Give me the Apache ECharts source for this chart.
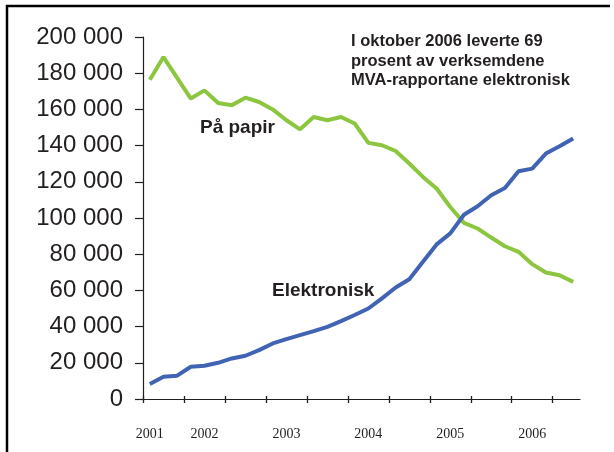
<!DOCTYPE html>
<html>
<head>
<meta charset="utf-8">
<script src="https://cdn.jsdelivr.net/npm/echarts@6/dist/echarts.min.js"></script>
<style>
  html, body { margin: 0; padding: 0; background: #fff; }
  #container { width: 614px; height: 452px; }
</style>
</head>
<body>
<div id="container"></div>
<script>
let chart = echarts.init(document.getElementById('container'));

// bimonthly MVA terms, 2001 - 2006 (32 terms)
var terms = [];
for (var i = 0; i < 32; i++) { terms.push('t' + i); }
// year label shown at these term indexes
var yearLabels = {0: '2001', 4: '2002', 10: '2003', 16: '2004', 22: '2005', 28: '2006'};
// half-year tick marks, at term boundaries
var halfYearTicks = [0, 3, 6, 9, 12, 15, 18, 21, 24, 27, 30];

var papir = [176400, 188900, 177400, 166000, 170500, 163500, 162300, 166500,
             164100, 160000, 154000, 149000, 155800, 154000, 155800, 152200,
             141500, 140200, 137000, 130100, 122700, 116300, 106100, 97300,
             94200, 89200, 84400, 81300, 74500, 69900, 68400, 64700];
var elektronisk = [8300, 12300, 12900, 17800, 18400, 20000, 22400, 23900,
                   27000, 30700, 33100, 35300, 37500, 39900, 43000, 46400,
                   50000, 55600, 61600, 66200, 75800, 85400, 91500, 101800,
                   106500, 112600, 116600, 125800, 127300, 135600, 139600, 143900];

var textColor = '#231f20';
var axisColor = '#231f20';

function tickAxis(inside, len) {
    return {
        type: 'value',
        position: 'bottom',
        min: 0,
        max: terms.length,
        axisLine: { show: false },
        splitLine: { show: false },
        axisLabel: { show: false },
        axisTick: {
            show: true,
            inside: inside,
            length: len,
            customValues: halfYearTicks,
            lineStyle: { color: axisColor, width: 1.3 }
        }
    };
}

var option = {
    animation: false,
    grid: {
        left: 143,
        right: 34,
        top: 37,
        bottom: 53
    },
    xAxis: [{
        type: 'category',
        data: terms,
        boundaryGap: true,
        axisLine: { lineStyle: { color: axisColor, width: 1.2 } },
        axisTick: { show: false },
        axisLabel: {
            interval: 0,
            formatter: function (value, idx) { return yearLabels[idx] || ''; },
            margin: 28,
            fontFamily: 'Liberation Serif',
            fontSize: 14,
            color: textColor
        }
    }, tickAxis(false, 4), tickAxis(true, 3)],
    yAxis: {
        type: 'value',
        min: 0,
        max: 200000,
        interval: 20000,
        splitLine: { show: false },
        axisLine: { show: true, lineStyle: { color: axisColor, width: 1.2 } },
        axisTick: { show: true, length: 8, lineStyle: { color: axisColor, width: 1.2 } },
        axisLabel: {
            margin: 20,
            fontFamily: 'Liberation Sans',
            fontSize: 24,
            color: textColor,
            formatter: function (v) {
                return String(v).replace(/\B(?=(\d{3})+(?!\d))/g, ' ');
            }
        }
    },
    series: [{
        name: 'På papir',
        type: 'line',
        data: papir,
        symbol: 'none',
        lineStyle: { color: '#8cc63f', width: 4 }
    }, {
        name: 'Elektronisk',
        type: 'line',
        data: elektronisk,
        symbol: 'none',
        lineStyle: { color: '#4163b4', width: 4 }
    }],
    graphic: [{
        type: 'polyline',
        shape: { points: [[610, 6], [7, 6], [7, 460]] },
        style: { stroke: '#000', lineWidth: 2.5, fill: null }
    }, {
        type: 'text',
        left: 351,
        top: 32,
        style: {
            text: 'I oktober 2006 leverte 69\nprosent av verksemdene\nMVA-rapportane elektronisk',
            font: 'bold 16.5px "Liberation Sans"',
            lineHeight: 19.5,
            fill: textColor
        }
    }, {
        type: 'text',
        left: 200,
        top: 118,
        style: {
            text: 'På papir',
            font: 'bold 19px "Liberation Sans"',
            fill: textColor
        }
    }, {
        type: 'text',
        left: 272,
        top: 281,
        style: {
            text: 'Elektronisk',
            font: 'bold 19px "Liberation Sans"',
            fill: textColor
        }
    }]
};

chart.setOption(option);
</script>
</body>
</html>
